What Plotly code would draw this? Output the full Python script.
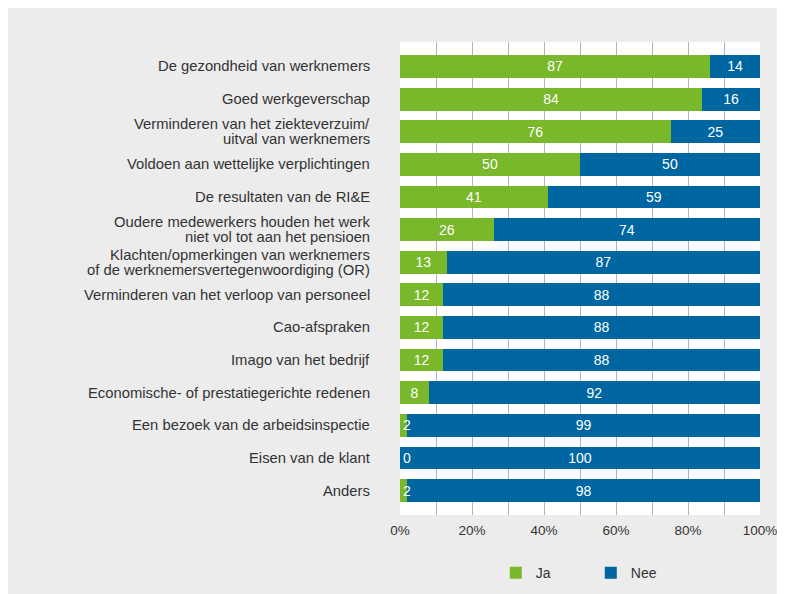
import plotly.graph_objects as go

categories = [
    "De gezondheid van werknemers",
    "Goed werkgeverschap",
    "Verminderen van het ziekteverzuim/<br>uitval van werknemers",
    "Voldoen aan wettelijke verplichtingen",
    "De resultaten van de RI&E",
    "Oudere medewerkers houden het werk<br>niet vol tot aan het pensioen",
    "Klachten/opmerkingen van werknemers<br>of de werknemersvertegenwoordiging (OR)",
    "Verminderen van het verloop van personeel",
    "Cao-afspraken",
    "Imago van het bedrijf",
    "Economische- of prestatiegerichte redenen",
    "Een bezoek van de arbeidsinspectie",
    "Eisen van de klant",
    "Anders",
]
ja = [87, 84, 76, 50, 41, 26, 13, 12, 12, 12, 8, 2, 0, 2]
nee = [14, 16, 25, 50, 59, 74, 87, 88, 88, 88, 92, 99, 100, 98]
series_names = ["Ja", "Nee"]
x_tick_vals = [0, 20, 40, 60, 80, 100]
x_tick_text = ["0%", "20%", "40%", "60%", "80%", "100%"]
grid_vals = [10, 20, 30, 40, 50, 60, 70, 80, 90]

GREEN = "#78b82a"
BLUE = "#0066a1"
BG = "#ececec"
TXT = "#333333"
FONT = "Liberation Sans, Arial, sans-serif"
LABEL_SIZE = 14.8

# normalise each row to 100 %
tot = [a + b for a, b in zip(ja, nee)]
ja_pct = [a / t * 100 for a, t in zip(ja, tot)]
nee_pct = [b / t * 100 for b, t in zip(nee, tot)]

ja_pos = ["inside" if v >= 5 else "none" for v in ja]

fig = go.Figure()
fig.add_trace(go.Bar(
    name=series_names[0], y=categories, x=ja_pct, orientation="h",
    marker=dict(color=GREEN, line=dict(width=0)),
    text=[str(v) for v in ja], textposition=ja_pos,
    insidetextanchor="middle", constraintext="none",
    textfont=dict(color="white", size=14, family=FONT),
    hoverinfo="skip",
))
fig.add_trace(go.Bar(
    name=series_names[1], y=categories, x=nee_pct, orientation="h",
    marker=dict(color=BLUE, line=dict(width=0)),
    text=[str(v) for v in nee], textposition="inside",
    insidetextanchor="middle", constraintext="none",
    textfont=dict(color="white", size=14, family=FONT),
    hoverinfo="skip",
))

# labels for very small "Ja" values, placed at the start of the bar
for cat, v in zip(categories, ja):
    if v < 5:
        fig.add_annotation(x=0, y=cat, xref="x", yref="y", text=str(v),
                           showarrow=False, xanchor="left", xshift=1,
                           font=dict(color="white", size=14, family=FONT))

# category labels (tight line spacing for two-line labels)
LINE_GAP = 15
for cat in categories:
    lines = cat.split("<br>")
    n = len(lines)
    for i, line in enumerate(lines):
        shift = ((n - 1) / 2 - i) * LINE_GAP
        fig.add_annotation(x=0, y=cat, xref="paper", yref="y", text=line,
                           showarrow=False, xanchor="right", yanchor="middle",
                           xshift=-28, yshift=shift,
                           font=dict(color=TXT, size=LABEL_SIZE, family=FONT))

fig.update_layout(
    width=795, height=600,
    barmode="stack", bargap=0.3,
    paper_bgcolor=BG, plot_bgcolor="white",
    margin=dict(l=392, r=43, t=34, b=93, pad=0, autoexpand=False),
    font=dict(family=FONT, size=14, color=TXT),
    showlegend=True,
    legend=dict(orientation="h", x=0.53, xanchor="center", y=-0.123, yanchor="middle",
                font=dict(size=14, color=TXT), entrywidth=50, entrywidthmode="pixels",
                bgcolor="rgba(0,0,0,0)", traceorder="normal"),
)
fig.update_xaxes(range=[0, 100], tickvals=x_tick_vals, ticktext=x_tick_text,
                 showgrid=False, zeroline=False, showline=False, ticks="",
                 tickfont=dict(size=13.5, color=TXT), ticklabelstandoff=5,
                 automargin=False,
                 minor=dict(tickvals=grid_vals, showgrid=True, gridcolor="#b4b4b4", gridwidth=1),
                 fixedrange=True)
fig.update_yaxes(range=[13.75, -0.75], showgrid=False, zeroline=False, showline=False,
                 ticks="", showticklabels=False, automargin=False, fixedrange=True)

post = (
    "var s=document.createElement('style');"
    "s.textContent='html,body{overflow:hidden !important;}"
    "::-webkit-scrollbar{display:none;width:0;height:0;}';"
    "document.head.appendChild(s);"
)
fig.write_html("out.html", post_script=post)
